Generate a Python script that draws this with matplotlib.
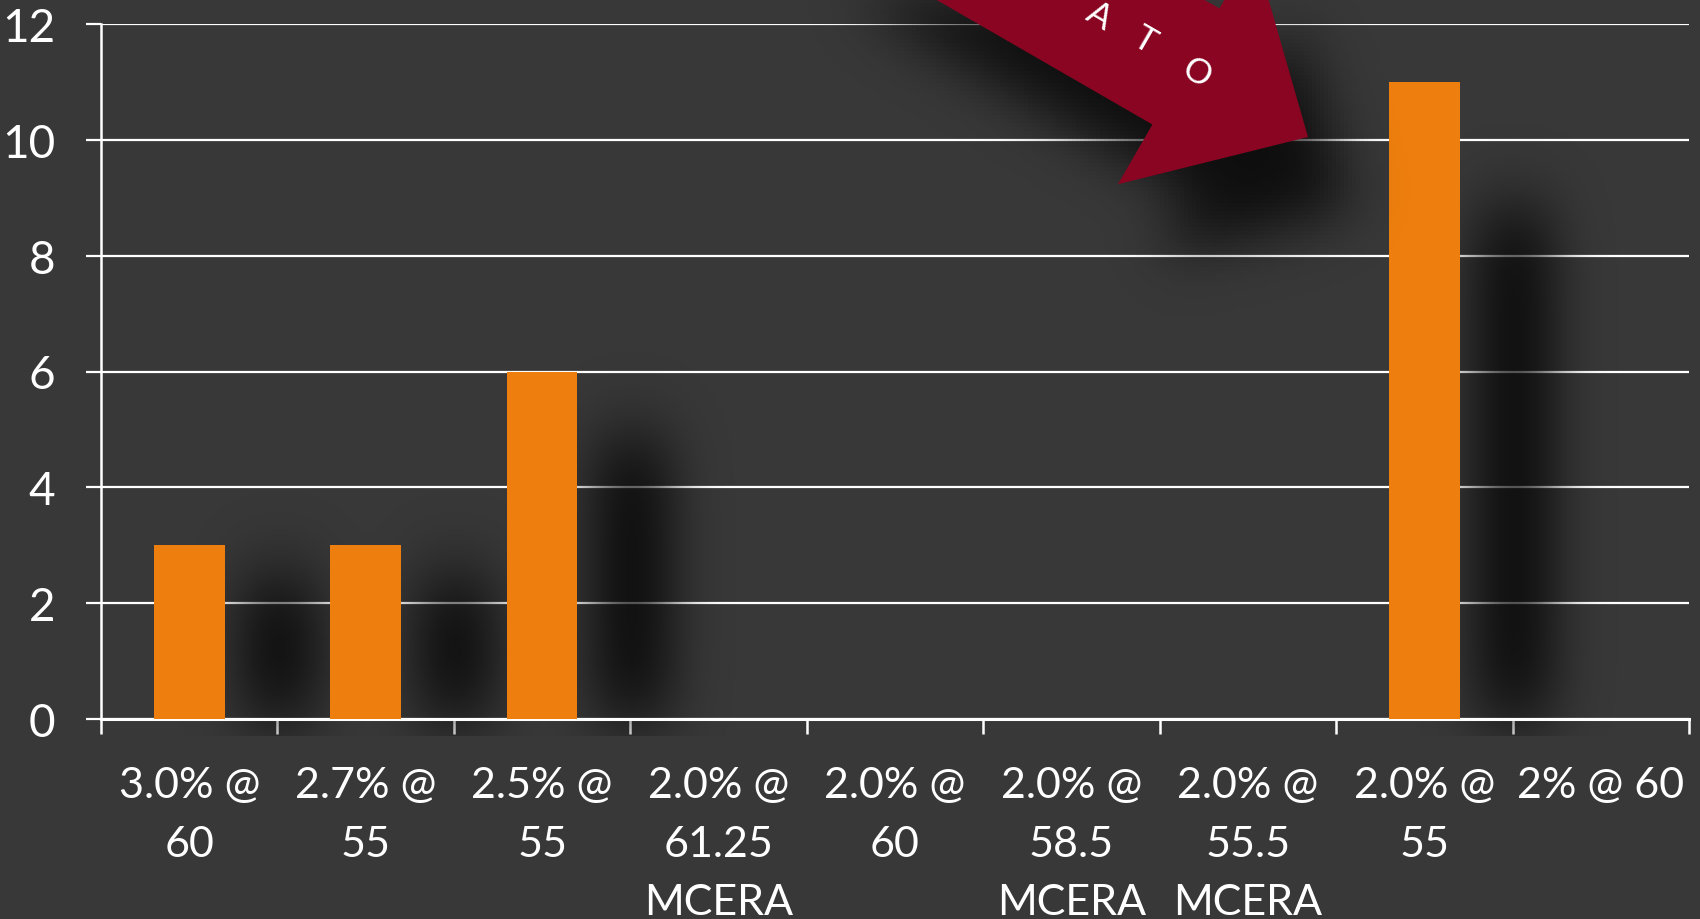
import matplotlib
matplotlib.use("Agg")
import matplotlib.pyplot as plt
import numpy as np
from matplotlib.patches import Polygon
from matplotlib.path import Path

# Données du graphique
categories = ["3.0% @\n60", "2.7% @\n55", "2.5% @\n55", "2.0% @\n61.25\nMCERA",
              "2.0% @\n60", "2.0% @\n58.5\nMCERA", "2.0% @\n55.5\nMCERA",
              "2.0% @\n55", "2% @ 60"]
valeurs = [3, 3, 6, 0, 0, 0, 0, 11, 0]
yticks = [0, 2, 4, 6, 8, 10, 12]
fleche_texte = ["A", "T", "O"]

W, H = 1700, 920
fond = "#383838"
orange = "#ee7f0e"
bordeaux = "#8a0522"
police = "Lato"


def flou(a, sx, sy):
    # flou gaussien séparable (numpy seulement)
    def noyau(s):
        r = int(3 * s) + 1
        t = np.arange(-r, r + 1)
        k = np.exp(-0.5 * (t / s) ** 2)
        return k / k.sum()
    kx, ky = noyau(sx), noyau(sy)
    a = np.apply_along_axis(lambda r: np.convolve(r, kx, mode="same"), 1, a)
    a = np.apply_along_axis(lambda c: np.convolve(c, ky, mode="same"), 0, a)
    return a


fig = plt.figure(figsize=(W / 100, H / 100), dpi=100, facecolor=fond)

ax = fig.add_axes([101 / W, 1 - 720 / H, 1588 / W, 695 / H], zorder=1)
ax.set_facecolor("none")
x = np.arange(len(categories))
ax.set_xlim(-0.5, len(categories) - 0.5)
ax.set_ylim(0, 12)

# ombres des barres (floues, décalées vers la droite)
nx, ny = 900, 240
gx = np.linspace(-0.5, len(categories) - 0.5, nx)
gy = np.linspace(-0.3, 12, ny)
masque = np.zeros((ny, nx))
for i, v in enumerate(valeurs):
    if v > 0:
        sel_x = (gx > i + 0.3) & (gx < i + 0.72)
        sel_y = (gy > 0) & (gy < v * 0.8)
        masque[np.ix_(sel_y, sel_x)] = 1.0
masque = flou(masque, 15, 12)
ombre = np.zeros((ny, nx, 4))
ombre[..., 3] = np.clip(masque * 0.8, 0, 1)
ax.imshow(ombre, extent=(gx[0], gx[-1], gy[0], gy[-1]), origin="lower",
          aspect="auto", zorder=1, clip_on=False)

ax.bar(x, valeurs, width=0.4, color=orange, zorder=3)

ax.set_yticks(yticks)
ax.set_yticklabels([str(t) for t in yticks])
ax.grid(axis="y", color="white", linewidth=1.6, zorder=2)
ax.set_axisbelow(True)
ax.set_xticks(x)
ax.set_xticklabels(categories, linespacing=1.66, va="top")
ax.set_xticks(np.arange(-0.5, len(categories)), minor=True)
ax.tick_params(axis="x", which="major", length=0, pad=34, colors="white",
               labelsize=31)
ax.tick_params(axis="x", which="minor", length=11, width=1.8, direction="out",
               color="white")
ax.tick_params(axis="y", length=11, width=1.6, direction="out", colors="white",
               labelsize=33, pad=22)
for lab in ax.get_xticklabels() + ax.get_yticklabels():
    lab.set_fontfamily(police)
for s in ["top", "right"]:
    ax.spines[s].set_visible(False)
ax.spines["left"].set_color("white")
ax.spines["bottom"].set_color("white")
ax.spines["left"].set_linewidth(1.8)
ax.spines["bottom"].set_linewidth(2.2)

# flèche décorative en haut, avec son ombre
ov = fig.add_axes([0, 0, 1, 1], zorder=4)
ov.set_xlim(0, W)
ov.set_ylim(H, 0)
ov.set_axis_off()
ov.set_facecolor("none")

pointe = np.array([1308.0, 138.0])
u = np.array([np.cos(np.radians(30)), np.sin(np.radians(30))])
n = np.array([-u[1], u[0]])
lt, lb, lh = 141, 67, 136
base = pointe - lt * u
loin = 900
poly = np.array([
    base + lb * n - loin * u,
    base + lb * n,
    base + lh * n,
    pointe,
    base - lh * n,
    base - lb * n,
    base - lb * n - loin * u,
])

# ombre de la flèche
sh_w, sh_h = 425, 230
yy2, xx2 = np.mgrid[0:sh_h, 0:sh_w]
pts = np.c_[xx2.ravel() * 4, yy2.ravel() * 4]
decal = poly + np.array([40, 70])
ombre_f = Path(decal).contains_points(pts).reshape(sh_h, sh_w).astype(float)
ombre_f = flou(ombre_f, 7, 7)
img = np.zeros((sh_h, sh_w, 4))
img[..., 3] = np.clip(ombre_f * 0.75, 0, 1)
ov.imshow(img, extent=(0, sh_w * 4, sh_h * 4, 0), aspect="auto", zorder=1)

ov.add_patch(Polygon(poly, closed=True, facecolor=bordeaux, edgecolor="none",
                     zorder=2))
centres = [(1099, 16), (1144, 40), (1196, 73)]
for lettre, (cx, cy) in zip(fleche_texte, centres):
    ov.text(cx, cy, lettre, color="white", fontsize=25, family=police,
            rotation=-30, ha="center", va="center", zorder=3)

fig.savefig("out.png", dpi=100, facecolor=fond)
